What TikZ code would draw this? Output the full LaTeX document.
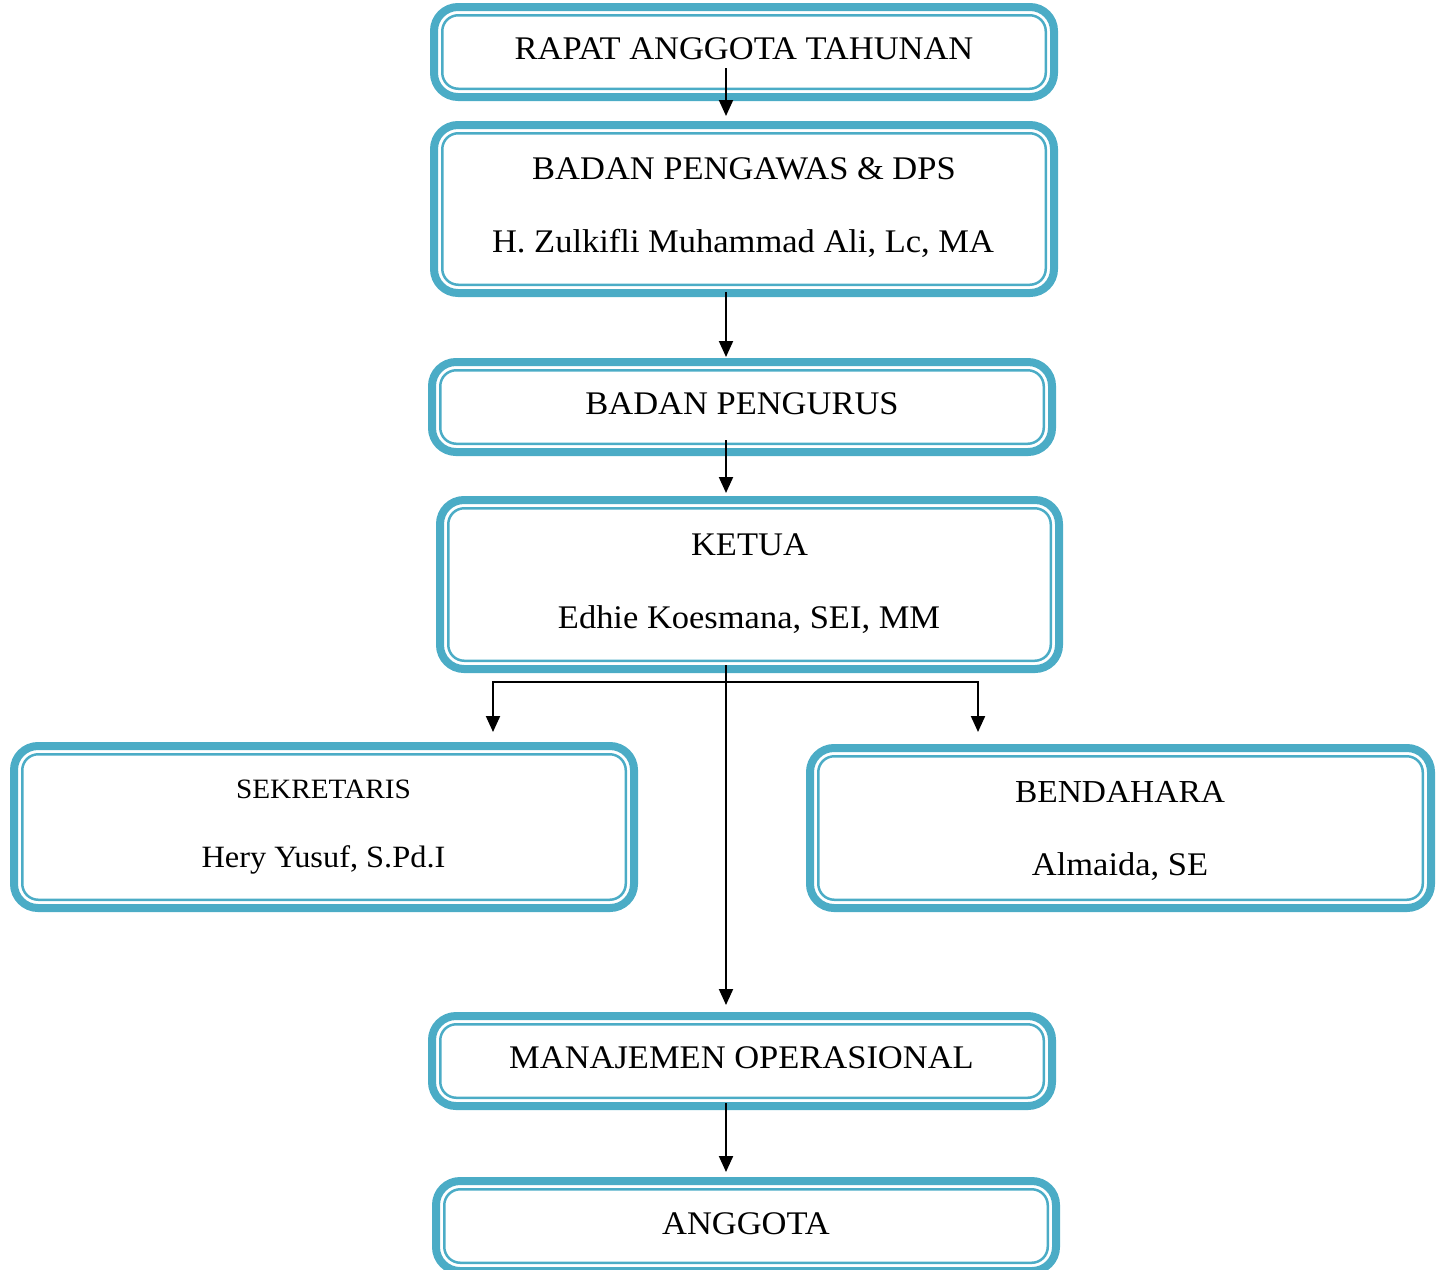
\documentclass[tikz,border=0pt]{standalone}
\usepackage{fontspec}
\setmainfont[FakeStretch=1.045]{Liberation Serif}
\usetikzlibrary{arrows.meta,calc}
\definecolor{bord}{HTML}{4BACC6}
\newcommand\innerline[1]{\draw[boxin] ($(#1.north west)+(8.25,8.25)$) rectangle ($(#1.south east)+(-8.25,-8.25)$);}
\begin{document}
\begin{tikzpicture}[x=0.5pt,y=-0.5pt,
  boxout/.style={draw=bord, line width=4pt, rounded corners=12pt, inner sep=0pt, outer sep=0pt, minimum width=310pt},
  boxin/.style={draw=bord, line width=1.25pt, rounded corners=8pt},
  txt/.style={inner sep=0pt, anchor=base, font=\fontsize{16.5}{19}\selectfont},
  arr/.style={draw=black, line width=1pt, -{Triangle[length=8pt,width=7pt]}},
  ln/.style={draw=black, line width=1pt}]
\useasboundingbox (0,0) rectangle (1443,1269);
% boxes
\node[boxout, minimum height=45pt] (b1) at (744,52) {};
\node[boxout, minimum height=84pt] (b2) at (744,209) {};
\node[boxout, minimum height=45pt] (b3) at (742,407) {};
\node[boxout, minimum width=309.5pt, minimum height=84.5pt] (b4) at (749.5,584.5) {};
\node[boxout, minimum height=81pt] (b5) at (324,827) {};
\node[boxout, minimum width=310.5pt, minimum height=80pt] (b6) at (1120.5,828) {};
\node[boxout, minimum height=45pt] (b7) at (742,1061) {};
\node[boxout, minimum height=45pt] (b8) at (746,1226) {};
\innerline{b1}\innerline{b2}\innerline{b3}\innerline{b4}
\innerline{b5}\innerline{b6}\innerline{b7}\innerline{b8}
% texts
\node[txt] (t1) at (744,59) {RAPAT ANGGOTA TAHUNAN};
\node[txt] (t2a) at (744,179) {BADAN PENGAWAS \& DPS};
\node[txt] (t2b) at (743,252) {H. Zulkifli Muhammad Ali, Lc, MA};
\node[txt] (t3) at (742,414) {BADAN PENGURUS};
\node[txt] (t4a) at (749.5,555) {KETUA};
\node[txt] (t4b) at (749,628) {Edhie Koesmana, SEI, MM};
\node[txt, font=\fontsize{14}{16}\selectfont] (t5a) at (323.5,798) {SEKRETARIS};
\node[txt, font=\fontsize{15.5}{18}\selectfont] (t5b) at (323.5,867) {Hery Yusuf, S.Pd.I};
\node[txt, font=\fontsize{16}{18}\selectfont] (t6a) at (1120,802) {BENDAHARA};
\node[txt] (t6b) at (1120,875) {Almaida, SE};
\node[txt] (t7) at (741.5,1068) {MANAJEMEN OPERASIONAL};
\node[txt] (t8) at (746,1234) {ANGGOTA};
% connectors
\coordinate (spine) at (726,0);
\coordinate (jn) at (726,682);
\coordinate (tl) at (493,732);
\coordinate (tr) at (978,732);
\draw[arr] ($(b1.south -| spine)+(0,-29)$) -- ($(b2.north -| spine)+(0,-9)$);
\draw[arr] ($(b2.south -| spine)+(0,-1)$) -- ($(b3.north -| spine)+(0,-5)$);
\draw[arr] ($(b3.south -| spine)+(0,-12)$) -- ($(b4.north -| spine)+(0,-7)$);
\draw[arr] ($(b4.south -| spine)+(0,-4)$) -- ($(b7.north -| spine)+(0,-11)$);
\draw[arr] (jn) -| (tl);
\draw[arr] (jn) -| (tr);
\draw[arr] ($(b7.south -| spine)+(0,-3)$) -- ($(b8.north -| spine)+(0,-9)$);
\end{tikzpicture}
\end{document}
